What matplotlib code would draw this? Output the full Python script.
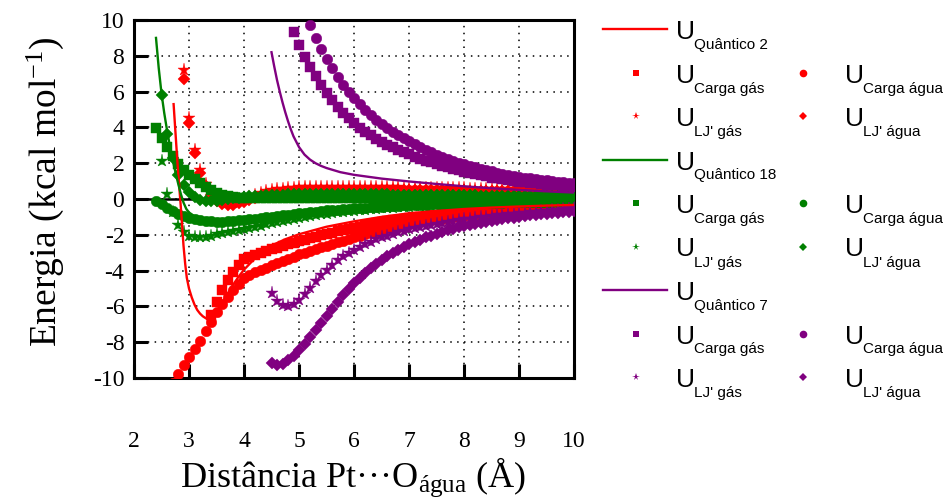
import numpy as np
import matplotlib
matplotlib.use('Agg')
import matplotlib.pyplot as plt

plt.rcParams['font.family'] = 'Liberation Serif'
plt.rcParams['mathtext.fontset'] = 'custom'
plt.rcParams['mathtext.rm'] = 'Liberation Serif'
plt.rcParams['mathtext.it'] = 'Liberation Serif:italic'
plt.rcParams['axes.unicode_minus'] = False

RED, GREEN, PURPLE = '#ff0000', '#008000', '#800080'

# ---------------- sistema 2 (vermelho) ----------------
q2_x = [2.72, 2.75, 2.78, 2.8, 2.82, 2.85, 2.88, 2.9, 2.93, 2.96, 3.0, 3.05, 3.1, 3.15,
        3.2, 3.25, 3.3, 3.35, 3.4, 3.45, 3.5, 3.6, 3.7, 3.8, 3.9, 4.0, 4.25, 4.5, 4.75,
        5.0, 5.5, 6.0, 6.5, 7.0, 7.5, 8.0, 8.5, 9.0, 9.5, 10.0]
q2_y = [5.3, 3.9, 2.5, 1.6, 0.8, -0.4, -1.7, -2.6, -3.6, -4.4, -5.0, -5.5, -5.9, -6.2,
        -6.4, -6.55, -6.65, -6.7, -6.65, -6.5, -6.3, -5.8, -5.3, -4.8, -4.35, -3.95, -3.15,
        -2.6, -2.25, -1.97, -1.55, -1.25, -1.0, -0.8, -0.67, -0.56, -0.48, -0.42, -0.37, -0.33]
carga_gas_2 = [-6.5, -5.75, -5.1, -4.55, -4.1, -3.7, -3.35,
               -3.23, -3.11, -3.0, -2.9, -2.8, -2.71, -2.62, -2.53, -2.44, -2.35,
               -2.27, -2.19, -2.11, -2.03, -1.95, -1.88, -1.81, -1.74, -1.67, -1.6,
               -1.54, -1.48, -1.42, -1.36, -1.3, -1.25, -1.2, -1.15, -1.1, -1.05,
               -1.01, -0.98, -0.94, -0.91, -0.88, -0.85, -0.82, -0.79, -0.77, -0.74,
               -0.72, -0.7, -0.68, -0.66, -0.64, -0.62, -0.6, -0.59, -0.57, -0.56,
               -0.55, -0.53, -0.52, -0.51, -0.5, -0.49, -0.48, -0.47, -0.46, -0.45]
carga_agua_2 = [-10.3, -9.8, -9.3, -8.8, -8.4, -7.95, -7.4, -6.85, -6.3, -5.85, -5.45, -5.1, -4.75, -4.4,
                -4.25, -4.1, -3.96, -3.83, -3.7, -3.58, -3.46, -3.34, -3.22, -3.1,
                -3.0, -2.9, -2.8, -2.7, -2.6, -2.5, -2.41, -2.32, -2.23, -2.15,
                -2.06, -1.98, -1.9, -1.82, -1.75, -1.68, -1.61, -1.54, -1.47, -1.4,
                -1.35, -1.3, -1.25, -1.2, -1.15, -1.11, -1.07, -1.03, -0.99, -0.95,
                -0.92, -0.89, -0.86, -0.83, -0.8, -0.78, -0.76, -0.74, -0.72, -0.7,
                -0.68, -0.67, -0.65, -0.64, -0.62, -0.61, -0.59, -0.58, -0.56, -0.55]
lj_gas_2 = [7.2, 4.5, 2.75, 1.6, 0.85, 0.35, 0.05, -0.12, -0.2, -0.2, -0.12, 0.0,
            0.12, 0.24, 0.34, 0.42, 0.49, 0.54, 0.58, 0.61, 0.63, 0.65,
            0.66, 0.67, 0.68, 0.68, 0.69, 0.69, 0.69, 0.69, 0.69, 0.68,
            0.68, 0.68, 0.67, 0.67, 0.66, 0.66, 0.65, 0.65, 0.64, 0.64,
            0.63, 0.63, 0.62, 0.62, 0.61, 0.61, 0.6, 0.6, 0.59, 0.59,
            0.58, 0.58, 0.57, 0.57, 0.56, 0.56, 0.55, 0.55, 0.54, 0.54,
            0.53, 0.53, 0.53, 0.52, 0.52, 0.52, 0.51, 0.51, 0.5, 0.5]
lj_agua_2 = [6.7, 4.25, 2.55, 1.45, 0.72, 0.22, -0.1, -0.27, -0.33, -0.32, -0.25, -0.14,
             -0.03, 0.07, 0.16, 0.23, 0.29, 0.34, 0.38, 0.41, 0.44, 0.46,
             0.48, 0.49, 0.5, 0.51, 0.52, 0.52, 0.53, 0.53, 0.53, 0.53,
             0.53, 0.53, 0.53, 0.52, 0.52, 0.52, 0.51, 0.51, 0.51, 0.5,
             0.5, 0.5, 0.49, 0.49, 0.49, 0.48, 0.48, 0.48, 0.47, 0.47,
             0.47, 0.46, 0.46, 0.46, 0.45, 0.45, 0.45, 0.44, 0.44, 0.44,
             0.44, 0.43, 0.43, 0.43, 0.43, 0.42, 0.42, 0.42, 0.42, 0.42]

# ---------------- sistema 18 (verde) ----------------
q18_x = [2.4, 2.45, 2.5, 2.55, 2.6, 2.65, 2.7, 2.75, 2.8, 2.85, 2.9, 2.95, 3.0, 3.1, 3.2,
         3.3, 3.4, 3.5, 3.6, 3.8, 4.0, 4.5, 5.0, 5.5, 6.0, 6.5, 7.0, 7.5, 8.0, 8.5, 9.0,
         9.5, 10.0]
q18_y = [9.0, 7.3, 5.9, 4.8, 3.85, 3.0, 2.25, 1.55, 0.9, 0.3, -0.2, -0.55, -0.75, -0.97,
         -1.1, -1.17, -1.2, -1.2, -1.18, -1.12, -1.05, -0.85, -0.67, -0.52, -0.42, -0.34,
         -0.28, -0.23, -0.19, -0.16, -0.14, -0.12, -0.1]
carga_gas_18 = [3.95, 3.4, 2.9, 2.4, 1.95, 1.6, 1.32, 1.1, 0.88, 0.68, 0.5, 0.34, 0.22, 0.14, 0.1, 0.08, 0.07,
                0.07, 0.07, 0.07, 0.07, 0.07, 0.07, 0.07, 0.07, 0.07, 0.07,
                0.07, 0.07, 0.07, 0.07, 0.07, 0.06, 0.06, 0.06, 0.06, 0.06,
                0.06, 0.06, 0.06, 0.06, 0.06, 0.06, 0.06, 0.06, 0.06, 0.06,
                0.06, 0.06, 0.06, 0.06, 0.06, 0.05, 0.05, 0.05, 0.05, 0.05,
                0.05, 0.05, 0.05, 0.05, 0.05, 0.05, 0.05, 0.05, 0.05, 0.05,
                0.05, 0.05, 0.05, 0.05, 0.05, 0.05, 0.05, 0.05, 0.05, 0.05]
carga_agua_18 = [-0.1, -0.3, -0.5, -0.68, -0.83, -0.95, -1.05, -1.12, -1.18, -1.22, -1.25, -1.26,
                 -1.26, -1.25, -1.23, -1.2, -1.17,
                 -1.13, -1.09, -1.05, -1.02, -0.98, -0.94, -0.91, -0.87, -0.84, -0.8,
                 -0.77, -0.73, -0.7, -0.67, -0.64, -0.61, -0.59, -0.56, -0.54, -0.52,
                 -0.5, -0.48, -0.46, -0.44, -0.42, -0.41, -0.39, -0.38, -0.36, -0.35,
                 -0.34, -0.33, -0.31, -0.3, -0.29, -0.28, -0.27, -0.26, -0.25, -0.25,
                 -0.24, -0.23, -0.22, -0.22, -0.21, -0.2, -0.2, -0.19, -0.19, -0.18,
                 -0.18, -0.17, -0.17, -0.16, -0.16, -0.15, -0.15, -0.15, -0.14, -0.14]
lj_gas_18 = [2.1, 0.3, -0.75, -1.45, -1.85, -2.05, -2.13, -2.14, -2.1, -2.04, -1.98, -1.92,
             -1.86, -1.8, -1.75, -1.7,
             -1.63, -1.56, -1.49, -1.42, -1.35, -1.29, -1.23, -1.17, -1.11, -1.05,
             -1.0, -0.95, -0.9, -0.86, -0.82, -0.78, -0.74, -0.71, -0.68, -0.65,
             -0.62, -0.59, -0.57, -0.55, -0.52, -0.5, -0.48, -0.46, -0.45, -0.43,
             -0.41, -0.4, -0.38, -0.37, -0.36, -0.34, -0.33, -0.32, -0.31, -0.3,
             -0.29, -0.28, -0.27, -0.27, -0.26, -0.25, -0.24, -0.24, -0.23, -0.22,
             -0.22, -0.21, -0.21, -0.2, -0.2, -0.19, -0.19, -0.18, -0.18, -0.17]
lj_agua_18 = [5.8, 3.65, 2.3, 1.35, 0.8, 0.38, 0.12, -0.03, -0.1, -0.12, -0.1, -0.06,
              -0.02, 0.03, 0.07, 0.11,
              0.14, 0.17, 0.19, 0.21, 0.23, 0.24, 0.25, 0.26, 0.27, 0.28,
              0.28, 0.29, 0.29, 0.29, 0.29, 0.29, 0.29, 0.29, 0.28, 0.28,
              0.28, 0.27, 0.27, 0.27, 0.26, 0.26, 0.25, 0.25, 0.25, 0.24,
              0.24, 0.23, 0.23, 0.23, 0.22, 0.22, 0.21, 0.21, 0.21, 0.2,
              0.2, 0.2, 0.19, 0.19, 0.19, 0.18, 0.18, 0.18, 0.17, 0.17,
              0.17, 0.16, 0.16, 0.16, 0.15, 0.15, 0.15, 0.14, 0.14, 0.14]

# ---------------- sistema 7 (roxo) ----------------
q7_x = [4.5, 4.55, 4.6, 4.65, 4.7, 4.75, 4.8, 4.85, 4.9, 5.0, 5.1, 5.2, 5.3, 5.4, 5.5,
        5.75, 6.0, 6.5, 7.0, 7.5, 8.0, 8.5, 9.0, 9.5, 10.0]
q7_y = [8.2, 7.4, 6.65, 6.0, 5.4, 4.85, 4.35, 3.9, 3.5, 2.9, 2.48, 2.2, 2.0, 1.85, 1.73,
        1.5, 1.35, 1.14, 0.98, 0.84, 0.71, 0.6, 0.51, 0.43, 0.36]
carga_gas_7 = [9.35, 8.6, 7.95, 7.4, 6.85, 6.38, 5.94, 5.53, 5.15, 4.82, 4.5, 4.23,
               3.98, 3.76, 3.56, 3.37, 3.2, 3.04, 2.9, 2.76, 2.63, 2.5,
               2.37, 2.25, 2.14, 2.04, 1.94, 1.85, 1.76, 1.68, 1.6, 1.53,
               1.46, 1.39, 1.32, 1.26, 1.2, 1.15, 1.1, 1.05, 1.01, 0.97,
               0.94, 0.9, 0.87, 0.84, 0.81, 0.78, 0.76, 0.73, 0.71, 0.69]
carga_agua_7 = [9.7, 9.0, 8.36, 7.8, 7.3, 6.83, 6.38, 5.98, 5.62,
                5.29, 4.98, 4.7, 4.44, 4.2, 3.98, 3.77, 3.58, 3.4, 3.23,
                3.06, 2.9, 2.75, 2.61, 2.48, 2.35, 2.24, 2.13, 2.03, 1.94,
                1.85, 1.76, 1.68, 1.61, 1.54, 1.47, 1.41, 1.35, 1.3, 1.25,
                1.2, 1.16, 1.12, 1.08, 1.04, 1.0, 0.97, 0.94, 0.91, 0.88]
lj_gas_7 = [-5.25, -5.7, -5.92, -5.97, -5.85, -5.62,
            -5.3, -4.95, -4.6, -4.27, -3.96, -3.68, -3.42, -3.19, -3.0, -2.83,
            -2.67, -2.52, -2.39, -2.26, -2.15, -2.04, -1.94, -1.85, -1.77, -1.7,
            -1.63, -1.56, -1.5, -1.44, -1.38, -1.33, -1.28, -1.23, -1.18, -1.13,
            -1.09, -1.05, -1.01, -0.98, -0.95, -0.92, -0.89, -0.86, -0.83, -0.8,
            -0.77, -0.74, -0.71, -0.68, -0.65, -0.62, -0.59, -0.56, -0.53, -0.5]
lj_agua_7 = [-9.15, -9.27, -9.2, -9.0, -8.75, -8.45,
             -8.1, -7.72, -7.33, -6.93, -6.53, -6.13, -5.75, -5.38, -5.03, -4.7,
             -4.4, -4.12, -3.86, -3.62, -3.4, -3.2, -3.01, -2.84, -2.68, -2.53,
             -2.4, -2.27, -2.15, -2.04, -1.94, -1.84, -1.75, -1.67, -1.59, -1.52,
             -1.45, -1.39, -1.33, -1.27, -1.22, -1.17, -1.12, -1.08, -1.04, -1.0,
             -0.96, -0.92, -0.89, -0.85, -0.82, -0.79, -0.76, -0.73, -0.7, -0.67]


def grade(vals):
    # pontos a cada 0.1 A terminando em 10 A
    n = len(vals)
    return np.round(10.0 - 0.1 * np.arange(n)[::-1], 2)


sistemas = [
    (RED, 'Quântico 2', q2_x, q2_y, carga_gas_2, carga_agua_2, lj_gas_2, lj_agua_2),
    (GREEN, 'Quântico 18', q18_x, q18_y, carga_gas_18, carga_agua_18, lj_gas_18, lj_agua_18),
    (PURPLE, 'Quântico 7', q7_x, q7_y, carga_gas_7, carga_agua_7, lj_gas_7, lj_agua_7),
]

mk = {'s': 7, 'o': 7.6, '*': 9.5, 'D': 6}

fig = plt.figure(figsize=(9.5, 4.99), dpi=100)
ax = fig.add_axes([134 / 950, 1 - 378 / 499, 440 / 950, 358 / 499])

ax.axhline(0, color='k', lw=1.8, zorder=1.5)

for cor, nome, qx, qy, cg, ca, lg, la in sistemas:
    for vals, m in [(cg, 's'), (ca, 'o'), (lg, '*'), (la, 'D')]:
        ax.plot(grade(vals), vals, ls='none', marker=m, ms=mk[m], color=cor,
                mec=cor, mew=0.3, zorder=3)
for cor, nome, qx, qy, cg, ca, lg, la in sistemas:
    ax.plot(qx, qy, color=cor, lw=1.7, zorder=4)

ax.set_xlim(2, 10)
ax.set_ylim(-10, 10)
ax.set_xticks(range(2, 11))
ax.set_yticks(range(-10, 11, 2))
ax.grid(True, color='k', ls=(0, (1, 3.5)), lw=1.1)
ax.tick_params(direction='in', length=10, width=2.2, labelsize=17)
ax.tick_params(axis='x', pad=38)
ax.tick_params(axis='y', pad=7)
for s in ax.spines.values():
    s.set_linewidth(2.2)

fig.text(45 / 950, 1 - 192 / 499, 'Energia (kcal mol$^{\\mathrm{-1}}$)', rotation=90,
         ha='center', va='center', fontsize=27)
fig.text(353 / 950, 1 - 477 / 499, 'Distância Pt···O$_{\\mathrm{água}}$ (Å)',
         ha='center', va='center', fontsize=26)

# legenda desenhada a mao
lax = fig.add_axes([0, 0, 1, 1])
lax.set_xlim(0, 950)
lax.set_ylim(499, 0)
lax.axis('off')

linhas_y = [29, 72.5, 116, 159.5, 203, 246.5, 290, 333.5, 377]
sans = 'Liberation Sans'


def entrada(x_mark, x_u, y, sub, handle, cor):
    if handle == 'line':
        lax.plot([603, 667], [y, y], color=cor, lw=1.7)
    else:
        ms = {'s': 5, 'o': 5.5, '*': 5.5, 'D': 4.5}[handle]
        lax.plot([x_mark], [y], ls='none', marker=handle, ms=ms, color=cor, mew=0)
    lax.text(x_u, y + 10, 'U', fontsize=19, family=sans, va='baseline', ha='left')
    lax.text(x_u + 18, y + 20, sub, fontsize=11, family=sans, va='baseline', ha='left')


for i, (cor, nome, *_) in enumerate(sistemas):
    y0 = linhas_y[3 * i]
    entrada(None, 676, y0, nome, 'line', cor)
    entrada(636, 676, linhas_y[3 * i + 1], 'Carga gás', 's', cor)
    entrada(803, 845, linhas_y[3 * i + 1], 'Carga água', 'o', cor)
    entrada(636, 676, linhas_y[3 * i + 2], "LJ' gás", '*', cor)
    entrada(803, 845, linhas_y[3 * i + 2], "LJ' água", 'D', cor)

fig.savefig('out.png', dpi=100)
